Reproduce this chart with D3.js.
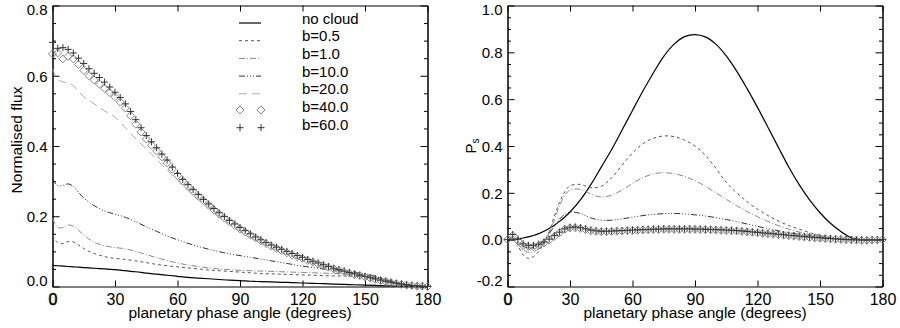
<!DOCTYPE html>
<html>
<head>
<meta charset="utf-8">
<script src="https://cdn.jsdelivr.net/npm/d3@7"></script>
<style>
body { margin: 0; background: #fff; }
svg text { font-family: "Liberation Sans", Arial, Helvetica, sans-serif; fill: #000; }
</style>
</head>
<body>
<script>
// ---- data ----
const seriesNames = ["no cloud", "b=0.5", "b=1.0", "b=10.0", "b=20.0", "b=40.0", "b=60.0"];

// angles for the line series
const lineAngles = [0, 2.5, 5, 7.5, 10, 12.5, 15, 17.5, 20, 22.5, 25, 27.5, 30, 35, 40, 45, 50, 55, 60, 65,
  70, 75, 80, 85, 90, 95, 100, 105, 110, 115, 120, 125, 130, 135, 140, 145, 150, 155, 160, 165, 170, 175, 180];

// angles for the symbol series (b=40, b=60)
const markerAngles = [0, 2.5, 5, 7.5, 10, 12.5, 15, 17.5, 20, 22.5, 25, 27.5, 30, 32.5, 35, 37.5, 40, 42.5,
  45, 47.5, 50, 52.5, 55, 57.5, 60, 62.5, 65, 67.5, 70, 72.5, 75, 77.5, 80, 82.5, 85, 87.5, 90, 92.5, 95,
  97.5, 100, 102.5, 105, 107.5, 110, 112.5, 115, 117.5, 120, 122.5, 125, 127.5, 130, 132.5, 135, 137.5,
  140, 142.5, 145, 147.5, 150, 152.5, 155, 157.5, 160, 162.5, 165, 167.5, 170, 172.5, 175, 177.5, 180];

// left panel: normalised flux
const fluxNoCloud = [0.060, 0.059, 0.058, 0.057, 0.056, 0.055, 0.054, 0.053, 0.052, 0.051, 0.050, 0.049, 0.048,
  0.045, 0.042, 0.038, 0.035, 0.032, 0.029, 0.026, 0.024, 0.022, 0.020, 0.018, 0.017, 0.015, 0.014, 0.013,
  0.012, 0.011, 0.010, 0.009, 0.008, 0.007, 0.006, 0.005, 0.004, 0.003, 0.002, 0.001, 0.001, 0.000, 0.000];
const fluxB05 = [0.145, 0.125, 0.122, 0.128, 0.127, 0.118, 0.108, 0.100, 0.094, 0.089, 0.085, 0.082, 0.080,
  0.077, 0.073, 0.068, 0.063, 0.059, 0.056, 0.053, 0.050, 0.047, 0.045, 0.043, 0.041, 0.039, 0.037, 0.036,
  0.035, 0.034, 0.033, 0.032, 0.031, 0.030, 0.030, 0.029, 0.028, 0.024, 0.017, 0.010, 0.005, 0.002, 0.000];
const fluxB1 = [0.195, 0.168, 0.168, 0.175, 0.172, 0.160, 0.147, 0.135, 0.126, 0.120, 0.116, 0.113, 0.111,
  0.107, 0.100, 0.091, 0.082, 0.074, 0.067, 0.061, 0.057, 0.053, 0.050, 0.048, 0.046, 0.045, 0.044, 0.043,
  0.042, 0.041, 0.040, 0.039, 0.038, 0.037, 0.036, 0.035, 0.033, 0.027, 0.019, 0.011, 0.005, 0.002, 0.000];
const fluxB10 = [0.305, 0.287, 0.288, 0.292, 0.285, 0.268, 0.252, 0.240, 0.230, 0.222, 0.215, 0.210, 0.206,
  0.197, 0.184, 0.170, 0.157, 0.144, 0.133, 0.123, 0.114, 0.106, 0.099, 0.093, 0.088, 0.083, 0.078, 0.073,
  0.068, 0.063, 0.058, 0.054, 0.050, 0.046, 0.043, 0.040, 0.036, 0.029, 0.020, 0.012, 0.006, 0.002, 0.000];
const fluxB20 = [0.620, 0.590, 0.582, 0.580, 0.572, 0.556, 0.540, 0.530, 0.520, 0.510, 0.500, 0.492, 0.482,
  0.452, 0.420, 0.392, 0.362, 0.332, 0.303, 0.276, 0.250, 0.226, 0.200, 0.178, 0.158, 0.141, 0.125, 0.111,
  0.098, 0.086, 0.075, 0.066, 0.057, 0.049, 0.041, 0.034, 0.027, 0.020, 0.013, 0.008, 0.004, 0.001, 0.000];
const fluxB40 = [0.662, 0.665, 0.648, 0.655, 0.648, 0.632, 0.615, 0.600, 0.588, 0.576, 0.564, 0.552, 0.540,
  0.525, 0.508, 0.486, 0.462, 0.440, 0.420, 0.402, 0.386, 0.369, 0.352, 0.334, 0.316, 0.300, 0.285, 0.271,
  0.257, 0.244, 0.231, 0.218, 0.206, 0.195, 0.184, 0.174, 0.164, 0.155, 0.146, 0.138, 0.130, 0.122, 0.115,
  0.108, 0.102, 0.096, 0.090, 0.085, 0.080, 0.074, 0.069, 0.064, 0.059, 0.055, 0.050, 0.046, 0.042, 0.038,
  0.034, 0.031, 0.027, 0.024, 0.020, 0.017, 0.014, 0.011, 0.008, 0.006, 0.004, 0.003, 0.001, 0.001, 0.000];
const fluxB60 = [0.695, 0.678, 0.680, 0.675, 0.665, 0.650, 0.635, 0.620, 0.607, 0.595, 0.582, 0.568, 0.553,
  0.538, 0.520, 0.498, 0.475, 0.452, 0.430, 0.412, 0.395, 0.377, 0.360, 0.340, 0.322, 0.305, 0.290, 0.276,
  0.262, 0.248, 0.235, 0.222, 0.210, 0.199, 0.188, 0.178, 0.168, 0.159, 0.150, 0.141, 0.133, 0.125, 0.118,
  0.112, 0.106, 0.100, 0.094, 0.088, 0.083, 0.077, 0.072, 0.067, 0.062, 0.057, 0.052, 0.048, 0.044, 0.040,
  0.036, 0.032, 0.029, 0.025, 0.022, 0.018, 0.015, 0.012, 0.009, 0.007, 0.005, 0.003, 0.002, 0.001, 0.000];

// right panel: degree of polarisation P_s
const polNoCloud = [0.000, 0.000, 0.003, 0.007, 0.012, 0.018, 0.026, 0.036, 0.048, 0.062, 0.078, 0.097, 0.118,
  0.170, 0.235, 0.310, 0.385, 0.468, 0.552, 0.635, 0.712, 0.783, 0.835, 0.867, 0.876, 0.866, 0.835, 0.785,
  0.720, 0.645, 0.565, 0.480, 0.395, 0.310, 0.235, 0.170, 0.115, 0.070, 0.035, 0.008, 0.000, 0.000, 0.000];
const polB05 = [0.000, 0.008, -0.025, -0.065, -0.080, -0.072, -0.050, -0.015, 0.035, 0.100, 0.160, 0.205, 0.230,
  0.236, 0.222, 0.228, 0.265, 0.318, 0.370, 0.410, 0.433, 0.443, 0.440, 0.425, 0.400, 0.360, 0.305, 0.245,
  0.200, 0.162, 0.130, 0.103, 0.080, 0.060, 0.045, 0.030, 0.018, 0.008, 0.002, 0.000, 0.000, 0.000, 0.000];
const polB1 = [0.000, 0.006, -0.018, -0.042, -0.055, -0.052, -0.038, -0.010, 0.030, 0.085, 0.145, 0.190, 0.212,
  0.215, 0.195, 0.182, 0.190, 0.212, 0.240, 0.265, 0.281, 0.286, 0.282, 0.270, 0.252, 0.228, 0.200, 0.172,
  0.145, 0.120, 0.098, 0.078, 0.060, 0.045, 0.033, 0.022, 0.013, 0.006, 0.002, 0.000, 0.000, 0.000, 0.000];
const polB10 = [0.000, 0.006, -0.012, -0.028, -0.035, -0.032, -0.022, -0.005, 0.025, 0.058, 0.088, 0.108, 0.118,
  0.112, 0.093, 0.083, 0.083, 0.089, 0.096, 0.103, 0.108, 0.111, 0.112, 0.110, 0.106, 0.101, 0.094, 0.086,
  0.077, 0.067, 0.057, 0.047, 0.038, 0.030, 0.023, 0.016, 0.010, 0.005, 0.001, 0.000, 0.000, 0.000, 0.000];
const polB20 = [0.000, 0.015, -0.010, -0.030, -0.040, -0.038, -0.030, -0.015, 0.005, 0.025, 0.040, 0.052, 0.057,
  0.053, 0.042, 0.037, 0.037, 0.039, 0.041, 0.043, 0.045, 0.046, 0.047, 0.047, 0.047, 0.046, 0.045, 0.043,
  0.041, 0.038, 0.034, 0.030, 0.026, 0.022, 0.018, 0.014, 0.010, 0.007, 0.004, 0.001, -0.001, -0.001, 0.000];
const polB40 = [0.000, 0.018, -0.005, -0.025, -0.030, -0.030, -0.024, -0.014, -0.002, 0.014, 0.030, 0.044, 0.050,
  0.051, 0.048, 0.043, 0.038, 0.035, 0.034, 0.034, 0.035, 0.036, 0.037, 0.038, 0.039, 0.040, 0.041, 0.042,
  0.043, 0.043, 0.044, 0.044, 0.044, 0.044, 0.044, 0.044, 0.044, 0.043, 0.043, 0.042, 0.041, 0.040, 0.039,
  0.038, 0.037, 0.035, 0.033, 0.031, 0.029, 0.027, 0.025, 0.023, 0.021, 0.019, 0.017, 0.015, 0.013, 0.011,
  0.009, 0.007, 0.006, 0.004, 0.003, 0.002, 0.001, 0.000, -0.001, -0.002, -0.003, -0.003, -0.002, -0.001, 0.000];
const polB60 = [0.000, 0.022, 0.002, -0.018, -0.024, -0.024, -0.019, -0.010, 0.002, 0.017, 0.032, 0.046, 0.053,
  0.054, 0.051, 0.046, 0.041, 0.038, 0.036, 0.036, 0.037, 0.038, 0.039, 0.040, 0.041, 0.042, 0.043, 0.044,
  0.045, 0.045, 0.046, 0.046, 0.046, 0.046, 0.046, 0.046, 0.045, 0.045, 0.044, 0.044, 0.043, 0.042, 0.041,
  0.040, 0.039, 0.037, 0.035, 0.033, 0.031, 0.029, 0.027, 0.025, 0.023, 0.021, 0.019, 0.017, 0.015, 0.013,
  0.011, 0.009, 0.008, 0.006, 0.005, 0.003, 0.002, 0.001, 0.000, -0.001, -0.001, -0.002, -0.001, -0.001, 0.000];

const xTicks = [0, 30, 60, 90, 120, 150, 180];
const fluxTicks = [0.0, 0.2, 0.4, 0.6, 0.8];
const polTicks = [-0.2, 0.0, 0.2, 0.4, 0.6, 0.8, 1.0];

// ---- styles (one per series name) ----
const styles = {
  "no cloud": { kind: "line", color: "#000", width: 1.2, dash: null },
  "b=0.5":    { kind: "line", color: "#555", width: 1, dash: "3,3" },
  "b=1.0":    { kind: "line", color: "#888", width: 1, dash: "6,2,1,2" },
  "b=10.0":   { kind: "line", color: "#333", width: 1, dash: "6,2,1,2,1,2,1,2" },
  "b=20.0":   { kind: "line", color: "#aaa", width: 1, dash: "8,5" },
  "b=40.0":   { kind: "diamond", color: "#888", width: 1 },
  "b=60.0":   { kind: "plus", color: "#333", width: 1 }
};

const W = 900, H = 328;
const plotTop = 5.5, plotBottom = 286.5;

const svg = d3.select("body").append("svg")
  .attr("width", W)
  .attr("height", H);

function symbolPath(kind) {
  // diamond and plus drawn as small paths centred on 0,0
  if (kind === "diamond") return "M0,-4L4,0L0,4L-4,0Z";
  return "M-3.5,0H3.5M0,-3.5V3.5";
}

function drawPanel(cfg) {
  const g = svg.append("g");
  const x = d3.scaleLinear().domain([0, 180]).range([cfg.left, cfg.right]);
  const y = d3.scaleLinear().domain(cfg.yDomain).range([plotBottom, plotTop]);

  const minor = d3.range(cfg.yDomain[0], cfg.yDomain[1] + 1e-9, 0.05)
    .filter(v => !cfg.yTicks.some(t => Math.abs(t - v) < 1e-6));

  // bottom axis with labels
  const xb = g.append("g").attr("transform", `translate(0,${plotBottom})`)
    .call(d3.axisBottom(x).tickValues(xTicks).tickSize(-6).tickSizeOuter(0).tickPadding(7)
      .tickFormat(d => String(d)));
  xb.selectAll("text").attr("font-size", 16)
    .attr("stroke", d => d === 0 ? "#000" : null).attr("stroke-width", 0.5);

  // top axis
  g.append("g").attr("transform", `translate(0,${plotTop})`)
    .call(d3.axisTop(x).tickValues(xTicks).tickSize(-6).tickSizeOuter(0).tickFormat(""));

  // left axis major + minor
  const yl = g.append("g").attr("transform", `translate(${cfg.left},0)`)
    .call(d3.axisLeft(y).tickValues(cfg.yTicks).tickSize(-7).tickSizeOuter(0).tickPadding(5)
      .tickFormat(d => d.toFixed(1)));
  yl.selectAll(".tick text")
    .attr("font-size", 15)
    .attr("dy", "0.35em")
    .attr("y", d => {
      const py = y(d);
      return Math.max(plotTop + 4, Math.min(plotBottom - 6, py)) - py;
    });
  g.append("g").attr("transform", `translate(${cfg.left},0)`)
    .call(d3.axisLeft(y).tickValues(minor).tickSize(-3.5).tickSizeOuter(0).tickFormat(""));

  // right axis major + minor
  g.append("g").attr("transform", `translate(${cfg.right},0)`)
    .call(d3.axisRight(y).tickValues(cfg.yTicks).tickSize(-7).tickSizeOuter(0).tickFormat(""));
  g.append("g").attr("transform", `translate(${cfg.right},0)`)
    .call(d3.axisRight(y).tickValues(minor).tickSize(-3.5).tickSizeOuter(0).tickFormat(""));

  g.selectAll(".domain, .tick line").attr("stroke", "#000").attr("stroke-width", 1);

  // axis titles
  g.append("text")
    .attr("x", (cfg.left + cfg.right) / 2)
    .attr("y", 317.5)
    .attr("text-anchor", "middle")
    .attr("font-size", 15.5)
    .text("planetary phase angle (degrees)");

  cfg.yTitle(g);

  const line = d3.line()
    .x(d => x(d[0]))
    .y(d => y(d[1]))
    .curve(d3.curveCatmullRom);

  seriesNames.forEach((name, i) => {
    const st = styles[name];
    const vals = cfg.series[i];
    if (st.kind === "line") {
      g.append("path")
        .datum(d3.zip(lineAngles, vals))
        .attr("fill", "none")
        .attr("stroke", st.color)
        .attr("stroke-width", st.width)
        .attr("stroke-dasharray", st.dash)
        .attr("d", line);
    } else {
      g.append("g").selectAll("path")
        .data(d3.zip(markerAngles, vals))
        .join("path")
        .attr("transform", d => `translate(${x(d[0])},${y(d[1])})`)
        .attr("d", symbolPath(st.kind))
        .attr("fill", "none")
        .attr("stroke", st.color)
        .attr("stroke-width", st.width);
    }
  });

  return g;
}

// left panel
const leftPanel = drawPanel({
  left: 52.5, right: 427.5,
  yDomain: [0, 0.8],
  yTicks: fluxTicks,
  series: [fluxNoCloud, fluxB05, fluxB1, fluxB10, fluxB20, fluxB40, fluxB60],
  yTitle: g => g.append("text")
    .attr("transform", "translate(21.5,140) rotate(-90)")
    .attr("text-anchor", "middle")
    .attr("font-size", 15.5)
    .text("Normalised flux")
});

// right panel
drawPanel({
  left: 507.5, right: 882.5,
  yDomain: [-0.2, 1.0],
  yTicks: polTicks,
  series: [polNoCloud, polB05, polB1, polB10, polB20, polB40, polB60],
  yTitle: g => {
    const t = g.append("text")
      .attr("transform", "translate(476,146) rotate(-90)")
      .attr("text-anchor", "middle")
      .attr("font-size", 15);
    t.append("tspan").text("P");
    t.append("tspan").attr("font-size", 10).attr("dy", 3).text("s");
  }
});

// legend (left panel)
const legend = leftPanel.append("g");
seriesNames.forEach((name, i) => {
  const st = styles[name];
  const base = 23.5 + i * 17.7;
  if (st.kind === "line") {
    legend.append("line")
      .attr("x1", 239).attr("x2", 261)
      .attr("y1", base - 0.5).attr("y2", base - 0.5)
      .attr("stroke", st.color)
      .attr("stroke-width", st.width)
      .attr("stroke-dasharray", st.dash);
  } else {
    [240, 261].forEach(px => {
      legend.append("path")
        .attr("transform", `translate(${px},${base - 2})`)
        .attr("d", symbolPath(st.kind))
        .attr("fill", "none")
        .attr("stroke", st.color)
        .attr("stroke-width", st.width);
    });
  }
  legend.append("text")
    .attr("x", 302)
    .attr("y", base)
    .attr("font-size", 15)
    .text(name);
});
</script>
</body>
</html>
